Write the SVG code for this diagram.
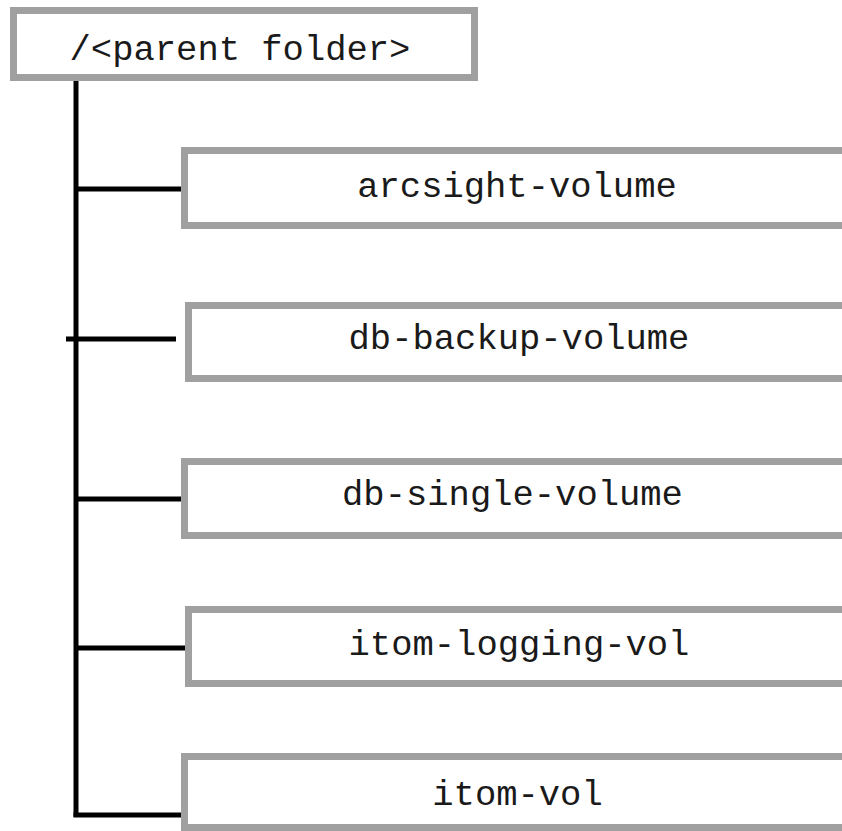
<svg xmlns="http://www.w3.org/2000/svg" width="842" height="831" viewBox="0 0 842 831">
<style>
.box{fill:#ffffff;stroke:#a0a0a0;stroke-width:7}
.lbl{font-family:"Liberation Mono","DejaVu Sans Mono",monospace;font-size:35.5px;fill:#1a1a1a;text-anchor:middle}
.con{stroke:#000000;stroke-width:5;fill:none}
</style>
<rect width="842" height="831" fill="#ffffff"/>
<g id="connectors">
<line class="con" x1="76" y1="81" x2="76" y2="817"/>
<line class="con" x1="76" y1="189" x2="187" y2="189"/>
<line class="con" x1="66" y1="339" x2="176" y2="339"/>
<line class="con" x1="76" y1="499" x2="187" y2="499"/>
<line class="con" x1="76" y1="648" x2="187" y2="648"/>
<line class="con" x1="73.5" y1="815" x2="184" y2="815"/>
</g>
<g id="parent-folder">
<rect class="box" x="13.5" y="10.5" width="461" height="67"/>
<text class="lbl" x="240" y="60">/&lt;parent folder&gt;</text>
</g>
<g id="arcsight-volume">
<rect class="box" x="184.5" y="150.5" width="670" height="75"/>
<text class="lbl" x="517" y="197">arcsight-volume</text>
</g>
<g id="db-backup-volume">
<rect class="box" x="188.5" y="305.5" width="670" height="73"/>
<text class="lbl" x="519" y="349">db-backup-volume</text>
</g>
<g id="db-single-volume">
<rect class="box" x="184.5" y="461.5" width="670" height="74"/>
<text class="lbl" x="512.5" y="505">db-single-volume</text>
</g>
<g id="itom-logging-vol">
<rect class="box" x="188.5" y="609.5" width="670" height="74"/>
<text class="lbl" x="519" y="655">itom-logging-vol</text>
</g>
<g id="itom-vol">
<rect class="box" x="184.5" y="756.5" width="670" height="71"/>
<text class="lbl" x="517.5" y="805">itom-vol</text>
</g>
</svg>
